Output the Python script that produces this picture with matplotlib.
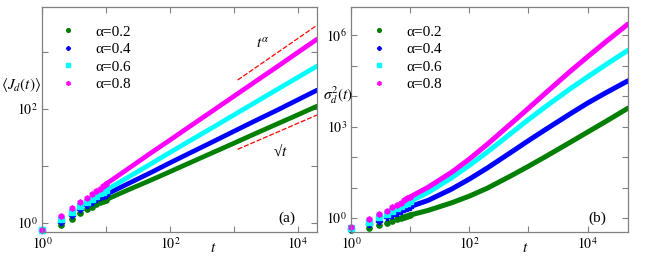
import matplotlib
matplotlib.use('Agg')
import matplotlib.pyplot as plt

plt.rcParams['font.family'] = ['Liberation Serif', 'DejaVu Serif']
plt.rcParams['mathtext.fontset'] = 'stix'

# alpha values, colours and marker shapes of the four series
ALPHAS = ['0.2', '0.4', '0.6', '0.8']
COLORS = ['#007f00', '#0000ff', '#00ffff', '#ff00ff']
MARKERS = ['o', 'P', 's', 'h']

# early times, drawn as separate points
t_small = [1, 2, 3, 4, 5, 6, 7, 8, 9, 10]

# panel (a): <J_d(t)>
J_small = {
    '0.2': [0.75, 0.92, 1.18, 1.48, 1.72, 1.92, 2.12, 2.28, 2.42, 2.54],
    '0.4': [0.75, 1.05, 1.38, 1.74, 2.05, 2.30, 2.58, 2.80, 3.00, 3.14],
    '0.6': [0.75, 1.17, 1.58, 1.99, 2.35, 2.65, 3.00, 3.30, 3.55, 3.76],
    '0.8': [0.75, 1.33, 1.81, 2.31, 2.75, 3.15, 3.60, 4.00, 4.40, 4.80],
}
t_a = [10, 20, 50, 100, 200, 500, 1000, 2000, 5000, 10000, 20000]
J_large = {
    '0.2': [2.54, 3.6, 5.6, 7.9, 11.2, 17.7, 25.0, 35.5, 56, 79, 112],
    '0.4': [3.14, 4.6, 7.6, 11.3, 16.6, 27.5, 40.5, 59.5, 98, 145, 214],
    '0.6': [3.76, 5.9, 10.8, 17.2, 27.2, 49.5, 78.5, 124, 228, 359, 567],
    '0.8': [4.8, 8.2, 16.8, 28.4, 48.5, 98, 167, 285, 575, 986, 1680],
}
guide_t = [1150, 20000]
guide_alpha = [323, 2960]
guide_sqrt = [19.6, 78.5]

# panel (b): sigma_d^2(t)
S_small = {
    '0.2': [0.40, 0.46, 0.59, 0.70, 0.82, 0.90, 1.00, 1.10, 1.18, 1.26],
    '0.4': [0.45, 0.64, 0.82, 1.05, 1.25, 1.49, 1.73, 1.97, 2.17, 2.37],
    '0.6': [0.47, 0.76, 1.05, 1.35, 1.74, 2.08, 2.47, 2.88, 3.22, 3.56],
    '0.8': [0.50, 0.91, 1.35, 1.74, 2.24, 2.67, 3.20, 3.90, 4.40, 4.95],
}
t_b = [10, 20, 50, 100, 200, 500, 1000, 2000, 5000, 10000, 20000, 48000]
S_large = {
    '0.2': [1.26, 1.78, 3.16, 5.25, 9.5, 24, 50, 107, 300, 660, 1450, 4000],
    '0.4': [2.37, 3.80, 8.9, 19.0, 43.5, 141, 347, 830, 2570, 5900, 12600, 31600],
    '0.6': [3.56, 6.9, 20.9, 53.7, 145, 590, 1700, 4680, 17000, 42600, 105000, 316000],
    '0.8': [4.95, 10.2, 31.6, 86, 260, 1220, 3980, 13200, 63000, 195000, 589000, 2290000],
}


def style_axes(ax, xticks, xlabels, yticks, ylabels):
    ax.set_xscale('log')
    ax.set_yscale('log')
    ax.set_xticks(xticks)
    ax.set_xticklabels(xlabels)
    ax.set_yticks(yticks)
    ax.set_yticklabels(ylabels)
    ax.minorticks_off()
    ax.tick_params(direction='in', length=4, width=0.8, color='#808080',
                   top=True, right=True, labelsize=10, pad=3)
    for sp in ax.spines.values():
        sp.set_color('#808080')
        sp.set_linewidth(0.9)


fig = plt.figure(figsize=(6.54, 2.62), dpi=100)
ax1 = fig.add_axes([0.0642, 0.1145, 0.4205, 0.8588])
ax2 = fig.add_axes([0.5367, 0.1145, 0.4235, 0.8588])

for a, c, m in zip(ALPHAS, COLORS, MARKERS):
    ax1.plot(t_small, J_small[a], linestyle='none', marker=m, color=c,
             ms=3.8, mec=c, label=f'α={a}', clip_on=False)
    ax1.plot(t_a, J_large[a], color=c, lw=3.4, solid_capstyle='round')
    ax2.plot(t_small, S_small[a], linestyle='none', marker=m, color=c,
             ms=3.8, mec=c, label=f'α={a}', clip_on=False)
    ax2.plot(t_b, S_large[a], color=c, lw=3.6, solid_capstyle='round')

ax1.plot(guide_t, guide_alpha, color='red', ls='--', lw=0.9, dashes=(4, 1.5))
ax1.plot(guide_t, guide_sqrt, color='red', ls='--', lw=0.9, dashes=(4, 1.5))
ax1.text(2820, 1440, r'$t^{\alpha}$', fontsize=11, ha='center', va='center')
ax1.text(5400, 18.3, '√$t$', fontsize=11, ha='center', va='center')

ax1.set_xlim(1, 2.0e4)
ax1.set_ylim(0.69, 6200)
ax2.set_xlim(1, 4.8e4)
ax2.set_ylim(0.35, 8.3e6)

style_axes(ax1, [1, 10, 100, 1000, 10000],
           [r'$10^0$', '', r'$10^2$', '', r'$10^4$'],
           [1, 10, 100, 1000], [r'$10^0$', '', r'$10^2$', ''])
style_axes(ax2, [1, 10, 100, 1000, 10000],
           [r'$10^0$', '', r'$10^2$', '', r'$10^4$'],
           [1, 10, 100, 1e3, 1e4, 1e5, 1e6],
           [r'$10^0$', '', '', r'$10^3$', '', '', r'$10^6$'])

for ax, lab, lx in [(ax1, '(a)', 0.065), (ax2, '(b)', 0.072)]:
    ax.text(0.89, 0.062, lab, transform=ax.transAxes, fontsize=11,
            ha='center', va='center')
    ax.legend(loc='upper left', bbox_to_anchor=(lx, 0.92), frameon=False,
              fontsize=11, handlelength=1.0, handletextpad=1.3,
              labelspacing=0.25, borderpad=0, borderaxespad=0,
              markerscale=0.7)

fig.text(21 / 654, 1 - 85 / 262, r'$\langle J_d(t)\rangle$', fontsize=11,
         ha='center', va='center')
fig.text(338 / 654, 1 - 95 / 262, r'$\sigma_d^2(t)$', fontsize=11,
         ha='center', va='center')
fig.text(213 / 654, 1 - 248 / 262, r'$t$', fontsize=11, ha='center', va='center')
fig.text(525 / 654, 1 - 248 / 262, r'$t$', fontsize=11, ha='center', va='center')

plt.savefig('out.png', dpi=100)
plt.close()
